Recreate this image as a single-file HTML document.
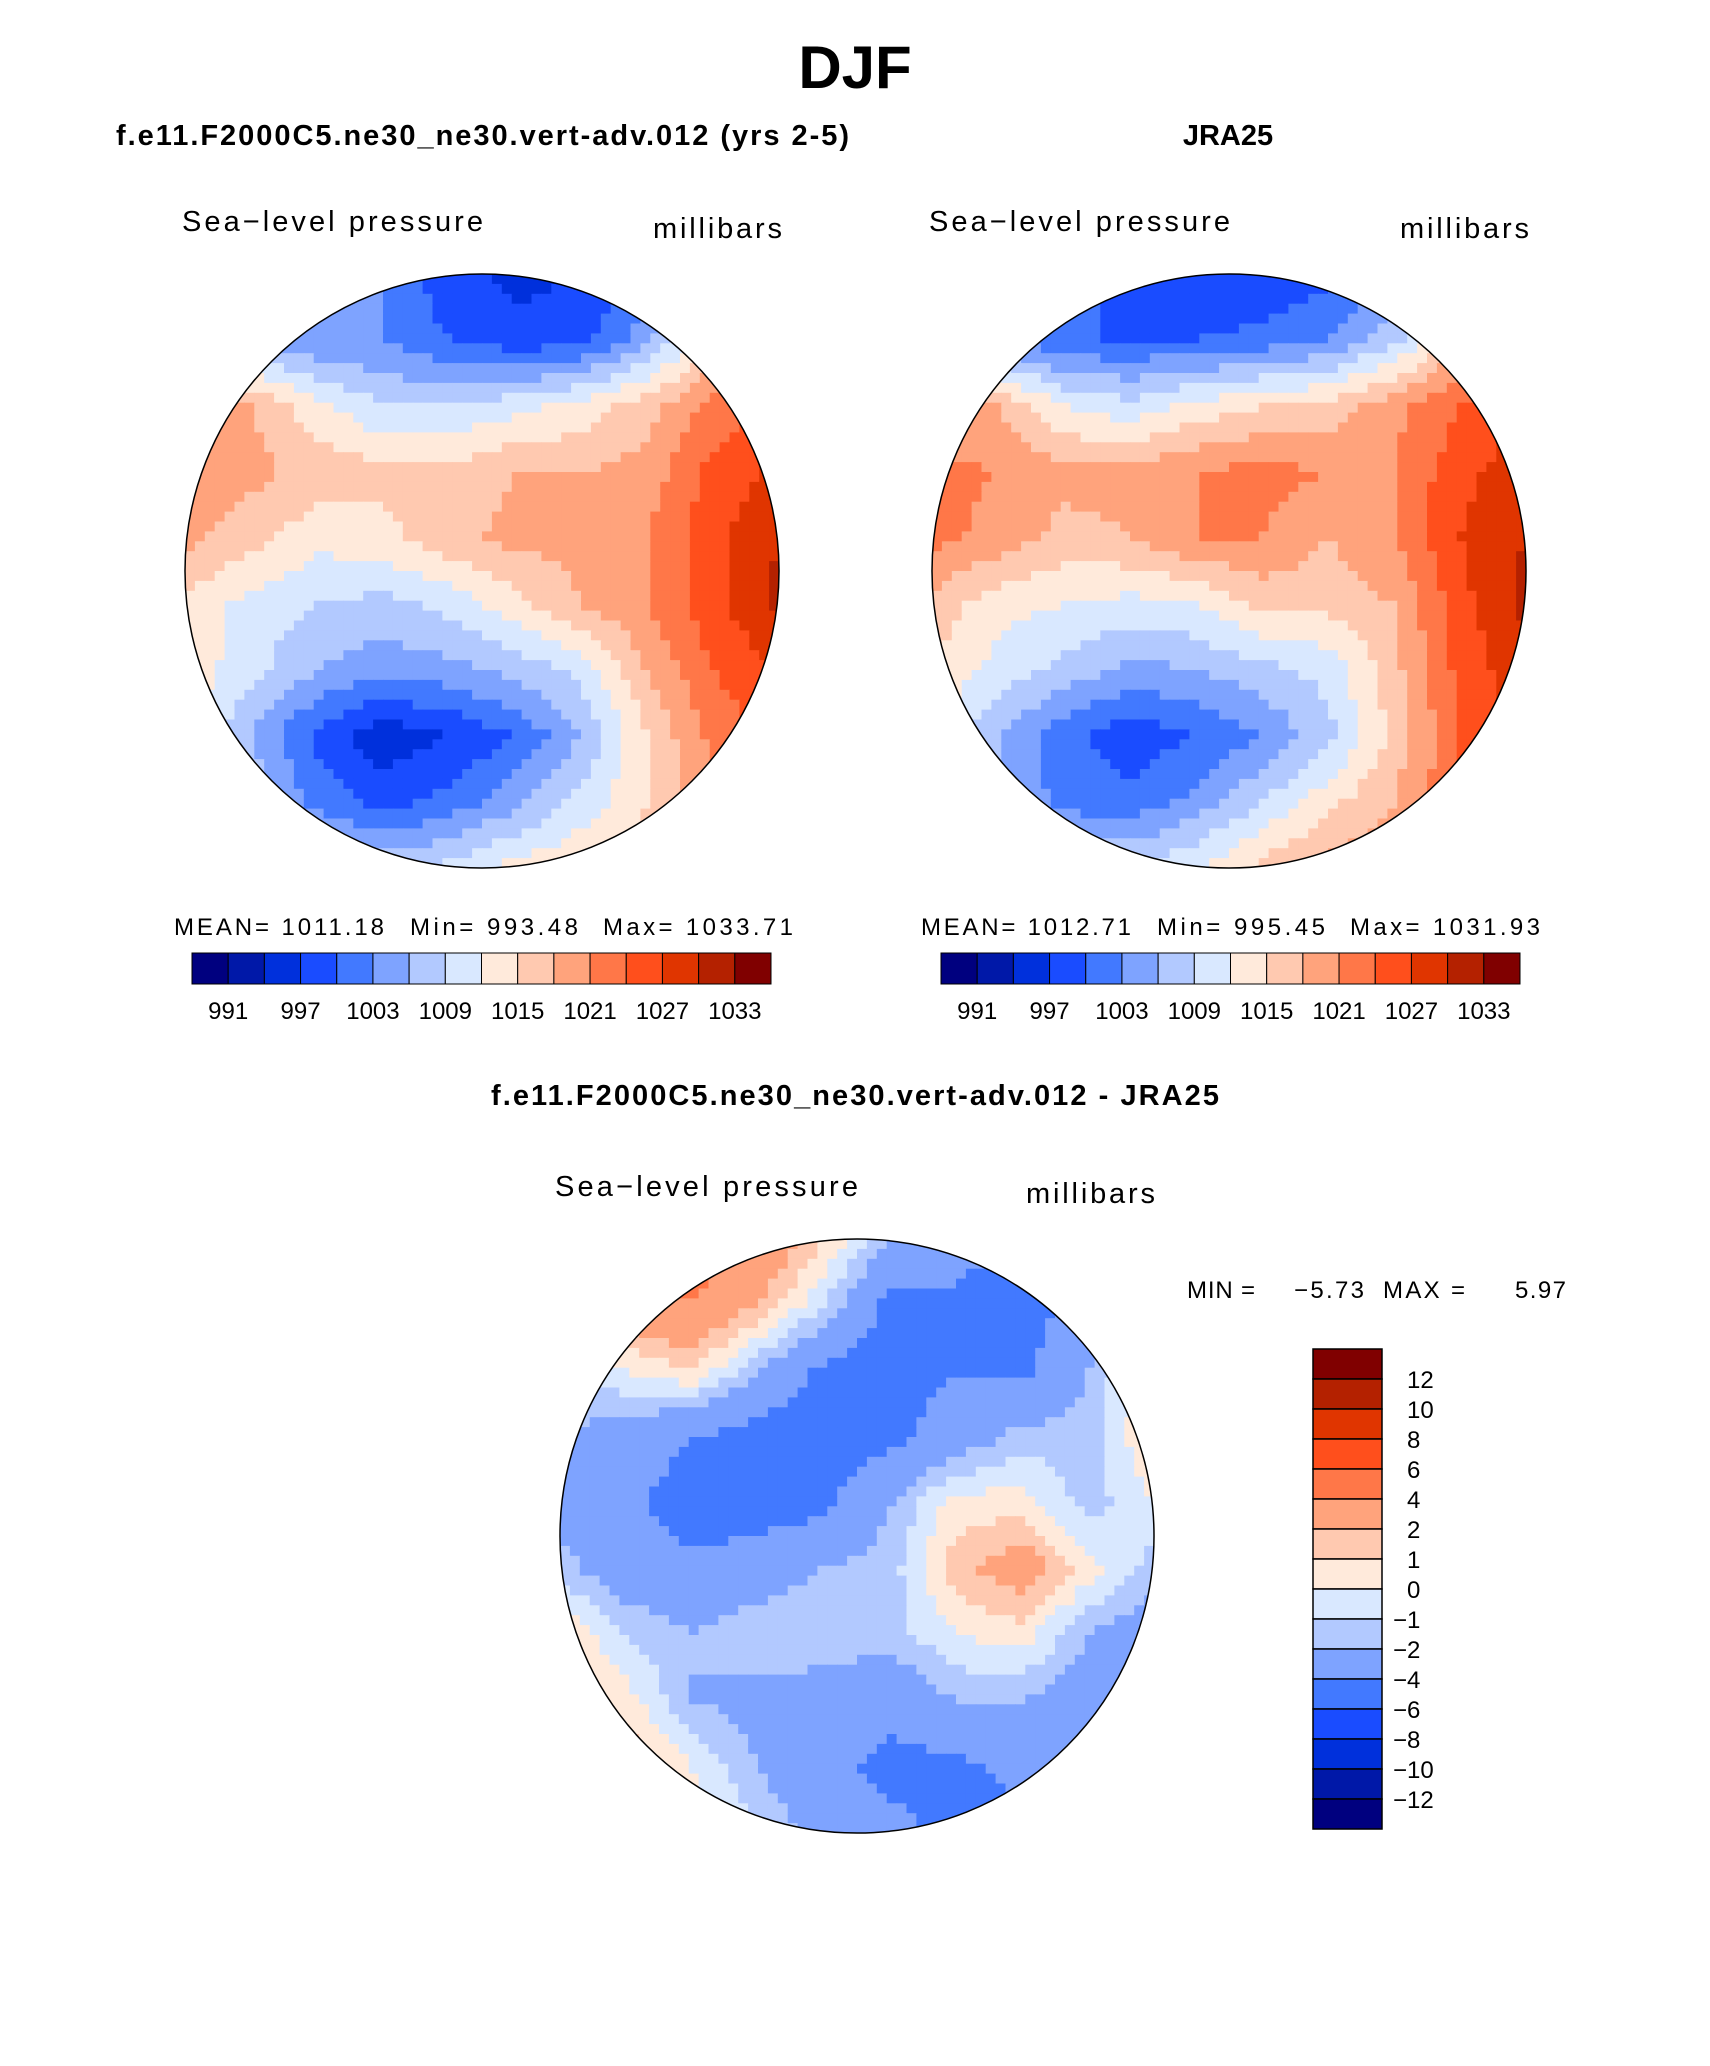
<!DOCTYPE html>
<html><head><meta charset="utf-8"><style>
html,body{margin:0;padding:0;background:#fff;}
svg text{font-family:"Liberation Sans",sans-serif;}
</style></head><body>
<svg id="root" width="1710" height="2061" viewBox="0 0 1710 2061" xmlns="http://www.w3.org/2000/svg">
<defs>
<clipPath id="c1"><circle cx="482" cy="571" r="297"/></clipPath>
<clipPath id="c2"><circle cx="1229" cy="571" r="297"/></clipPath>
<clipPath id="c3"><circle cx="857" cy="1536" r="297"/></clipPath>
</defs>
<text x="855" y="88" text-anchor="middle" font-size="60" font-weight="bold">DJF</text>
<text x="116" y="145" font-size="29" font-weight="bold" textLength="733">f.e11.F2000C5.ne30_ne30.vert-adv.012 (yrs 2-5)</text>
<text x="1228" y="145" text-anchor="middle" font-size="29" font-weight="bold">JRA25</text>
<text x="855" y="1105" text-anchor="middle" font-size="29" font-weight="bold" textLength="728">f.e11.F2000C5.ne30_ne30.vert-adv.012 - JRA25</text>

<text x="182" y="231" font-size="29" textLength="301">Sea−level pressure</text>
<text x="653" y="238" font-size="29" textLength="129">millibars</text>
<text x="929" y="231" font-size="29" textLength="301">Sea−level pressure</text>
<text x="1400" y="238" font-size="29" textLength="129">millibars</text>
<text x="555" y="1196" font-size="29" textLength="303">Sea−level pressure</text>
<text x="1026" y="1203" font-size="29" textLength="129">millibars</text>

<g id="m1" clip-path="url(#c1)"></g>
<g id="m2" clip-path="url(#c2)"></g>
<g id="m3" clip-path="url(#c3)"></g>
<circle cx="482" cy="571" r="297" fill="none" stroke="#000" stroke-width="1.5"/>
<circle cx="1229" cy="571" r="297" fill="none" stroke="#000" stroke-width="1.5"/>
<circle cx="857" cy="1536" r="297" fill="none" stroke="#000" stroke-width="1.5"/>

<g font-size="24">
<text x="174" y="935" textLength="210">MEAN=  1011.18</text>
<text x="410" y="935" textLength="168">Min=  993.48</text>
<text x="603" y="935" textLength="190">Max=  1033.71</text>
</g>
<g font-size="24">
<text x="921" y="935" textLength="210">MEAN=  1012.71</text>
<text x="1157" y="935" textLength="168">Min=  995.45</text>
<text x="1350" y="935" textLength="190">Max=  1031.93</text>
</g>
<g font-size="24">
<text x="1187" y="1298" textLength="68">MIN =</text>
<text x="1294" y="1298" textLength="70">−5.73</text>
<text x="1383" y="1298" textLength="82">MAX =</text>
<text x="1515" y="1298" textLength="51">5.97</text>
</g>
<g id="cb1"></g>
<g id="cb2"></g>
<g id="cb3"></g>
</svg>
<script>
const colors = ["#00007f","#0018a8","#0030dc","#1a4cff","#4279ff","#7ea3ff","#b2c9ff","#d9e8ff","#ffeadb","#ffc9b0","#ffa37c","#ff7748","#ff4f1c","#e03500","#b42100","#800000"];
const absLevels = [991,994,997,1000,1003,1006,1009,1012,1015,1018,1021,1024,1027,1030,1033];
const absTicks = ["991","997","1003","1009","1015","1021","1027","1033"];
const diffLevels = [-12,-10,-8,-6,-4,-2,-1,0,1,2,4,6,8,10,12];
const diffTicks = ["12","10","8","6","4","2","1","0","−1","−2","−4","−6","−8","−10","−12"];
const modelGrid = [
[1009,1007,1005,1003,998,996,997,1000,1009,1015],
[1009,1005,1003,1003,1000,998,999,1005,1015,1019],
[1018,1018,1013,1009,1009,1011,1013,1017,1022,1025],
[1020,1019,1017,1016,1016,1018,1018,1019,1025,1028],
[1019,1016,1013,1014,1017,1019,1019,1021,1026,1030],
[1014,1011,1009,1008,1010,1014,1018,1021,1026,1031],
[1014,1010,1006,1004,1005,1007,1010,1018,1024,1027],
[1013,1006,999,995,997,1000,1006,1015,1022,1025],
[1014,1008,1002,999,1001,1005,1010,1015,1020,1022],
[1015,1013,1010,1008,1010,1013,1015,1017,1018,1020]];
const obsGrid = [
[1007,1004,1001,999,997,997,999,1003,1010,1015],
[1009,1004,1000,1000,1000,1001,1003,1008,1017,1021],
[1019,1018,1012,1010,1013,1015,1016,1020,1024,1027],
[1022,1021,1019,1019,1021,1022,1021,1021,1026,1029],
[1022,1020,1017,1018,1021,1021,1018,1021,1027,1030],
[1017,1013,1012,1011,1012,1016,1016,1018,1026,1031],
[1015,1011,1008,1005,1006,1008,1010,1017,1025,1029],
[1012,1006,1001,998,1000,1003,1008,1016,1024,1028],
[1011,1006,1002,1001,1004,1009,1014,1018,1024,1026],
[1011,1010,1009,1009,1012,1016,1019,1021,1022,1023]];
const diffGrid = [
[3,4,5,4,1,-2,-3,-4.5,-2,0],
[1,3,4,2,-1,-4.5,-4.5,-5,-3,0],
[-1,0,1,-2,-4.5,-5,-4,-4.5,-2,1],
[-2,-3,-4,-5,-5,-4.5,-3,-1.5,-1.5,1],
[-2.5,-3.5,-5,-5,-4.5,-2,0.5,0.5,-1.5,0],
[-1.5,-3,-3.5,-3,-2,-1.5,1.5,3,0.5,-1.5],
[1,-1,-2,-1,-1,-1.5,0,0.5,-2,-3],
[2,0.5,-2,-2.5,-3,-3.5,-2,-2,-3,-4.5],
[3,2,0,-2,-3.5,-4.5,-4.5,-3.5,-4.5,-5],
[4,3,1,-1,-2.5,-3.5,-4.5,-4.5,-4.5,-4.5]];
const NS="http://www.w3.org/2000/svg";
function colorFor(v,lev){let i=0;while(i<lev.length&&v>=lev[i])i++;return colors[i];}
function sample(g,fx,fy){const n=g.length;let x=fx*(n-1),y=fy*(n-1);let i=Math.min(Math.floor(x),n-2),j=Math.min(Math.floor(y),n-2);let tx=x-i,ty=y-j;
return g[j][i]*(1-tx)*(1-ty)+g[j][i+1]*tx*(1-ty)+g[j+1][i]*(1-tx)*ty+g[j+1][i+1]*tx*ty;}
function drawMap(id,g,lev,cx,cy,r){const el=document.getElementById(id);const N=60,s=2*r/N;
for(let j=0;j<N;j++)for(let i=0;i<N;i++){const v=sample(g,(i+0.5)/N,(j+0.5)/N);
const rc=document.createElementNS(NS,"rect");


rc.setAttribute("x",(cx-r+i*s).toFixed(2));rc.setAttribute("y",(cy-r+j*s).toFixed(2));
rc.setAttribute("width",(s+0.6).toFixed(2));rc.setAttribute("height",(s+0.6).toFixed(2));
rc.setAttribute("fill",colorFor(v,lev));el.appendChild(rc);}}
drawMap("m1",modelGrid,absLevels,482,571,297);
drawMap("m2",obsGrid,absLevels,1229,571,297);
drawMap("m3",diffGrid,diffLevels,857,1536,297);
function hbar(id,x0,x1,y0,y1){const el=document.getElementById(id);const w=(x1-x0)/16;
for(let k=0;k<16;k++){const rc=document.createElementNS(NS,"rect");


rc.setAttribute("x",x0+k*w);rc.setAttribute("y",y0);rc.setAttribute("width",w);rc.setAttribute("height",y1-y0);
rc.setAttribute("fill",colors[k]);rc.setAttribute("stroke","#000");rc.setAttribute("stroke-width","1");el.appendChild(rc);}
absTicks.forEach((t,k)=>{const tx=document.createElementNS(NS,"text");


tx.setAttribute("x",x0+(2*k+1)*w);tx.setAttribute("y",y1+35);tx.setAttribute("font-size","24");tx.setAttribute("text-anchor","middle");
tx.textContent=t;el.appendChild(tx);});}
hbar("cb1",192,771,953,984);
hbar("cb2",941,1520,953,984);
(function(){const el=document.getElementById("cb3");const x0=1313,x1=1382,y0=1349,y1=1829,h=(y1-y0)/16;
for(let k=0;k<16;k++){const rc=document.createElementNS(NS,"rect");


rc.setAttribute("x",x0);rc.setAttribute("y",y0+k*h);rc.setAttribute("width",x1-x0);rc.setAttribute("height",h);
rc.setAttribute("fill",colors[15-k]);rc.setAttribute("stroke","#000");rc.setAttribute("stroke-width","1.5");el.appendChild(rc);}
diffTicks.forEach((t,k)=>{const tx=document.createElementNS(NS,"text");


tx.setAttribute("x",t.startsWith("−")?1393:1407);tx.setAttribute("y",y0+(k+1)*h+9);tx.setAttribute("font-size","24");
tx.textContent=t;el.appendChild(tx);});})();
</script>
</body></html>
